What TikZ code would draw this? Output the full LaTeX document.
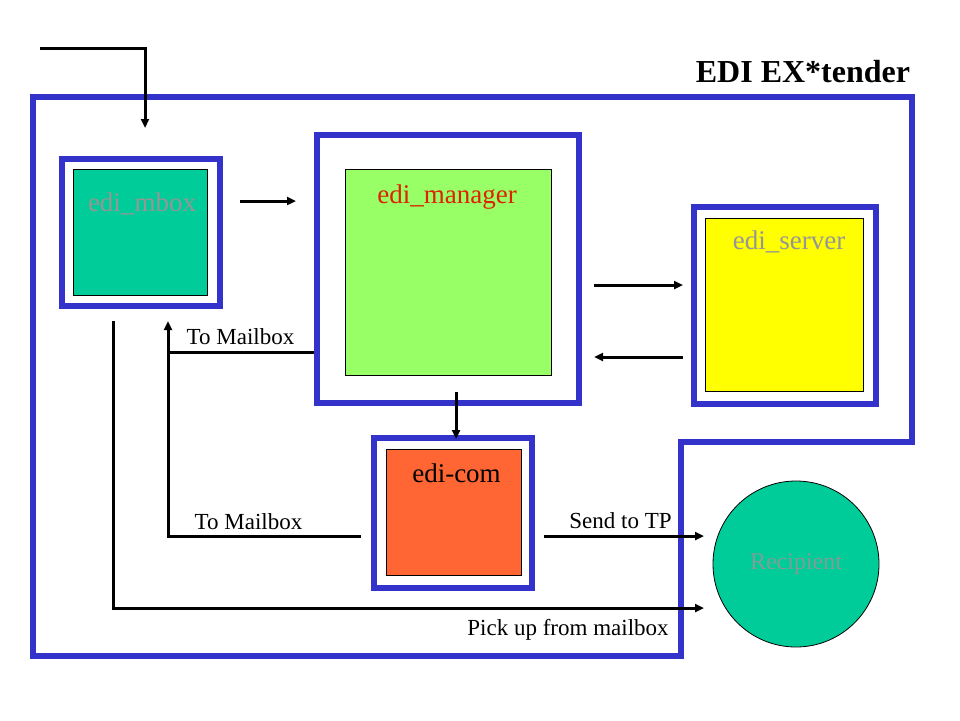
\documentclass[tikz,border=0pt]{standalone}
\usepackage{fontspec}
\setmainfont{Liberation Serif}
\usetikzlibrary{arrows.meta}

\definecolor{ediblue}{RGB}{51,51,204}
\definecolor{mboxgreen}{RGB}{0,204,153}
\definecolor{mangreen}{RGB}{153,255,102}
\definecolor{servyellow}{RGB}{255,255,0}
\definecolor{comorange}{RGB}{255,102,51}
\definecolor{manred}{RGB}{221,34,0}
\definecolor{labgray}{RGB}{150,150,150}

\tikzset{
  frame/.style={draw=ediblue, line width=6pt, inner sep=0pt},
  inbox/.style={draw=black, line width=1pt, inner sep=0pt},
  flow/.style={black, line width=3pt, ->},
  big/.style={font=\fontsize{27}{30}\selectfont, anchor=base},
  small/.style={font=\fontsize{23}{26}\selectfont, anchor=base},
  >={Triangle[length=9pt,width=8pt]}
}

\begin{document}
\begin{tikzpicture}[x=1pt,y=-1pt]
\useasboundingbox (0,0) rectangle (960,720);

% outer border
\draw[ediblue, line width=6pt] (32.5,96.5) -- (911.5,96.5) -- (911.5,442) -- (681,442) -- (681,656) -- (32.5,656) -- cycle;
\node[font=\fontsize{32}{36}\selectfont\bfseries, anchor=base] (title) at (803,82) {EDI EX*tender};

% boxes
\node[frame, minimum width=158.5pt, minimum height=147pt] (mboxframe) at (140.75,232) {};
\node[inbox, fill=mboxgreen, minimum width=134pt, minimum height=126pt] (mbox) at (140,232) {};
\node[big, text=labgray] (mboxlab) at (142,211) {edi\_mbox};

\node[frame, minimum width=262pt, minimum height=268pt] (managerframe) at (448,269) {};
\node[inbox, fill=mangreen, minimum width=206pt, minimum height=206pt] (manager) at (448,272) {};
\node[big, text=manred] (managerlab) at (447,203) {edi\_manager};

\node[frame, minimum width=182pt, minimum height=197pt] (serverframe) at (784.5,305) {};
\node[inbox, fill=servyellow, minimum width=158pt, minimum height=173pt] (server) at (784,304.5) {};
\node[big, text=labgray] (serverlab) at (789,249) {edi\_server};

\node[frame, minimum width=158pt, minimum height=150pt] (comframe) at (452.5,512.5) {};
\node[inbox, fill=comorange, minimum width=135pt, minimum height=126pt] (com) at (453.5,512) {};
\node[big] (comlab) at (456.5,482) {edi-com};

\node[circle, draw=black, line width=0.8pt, fill=mboxgreen, minimum size=166pt, inner sep=0pt] (recipient) at (796,564) {};
\node[font=\fontsize{24}{26}\selectfont, text=labgray!85!mboxgreen] at (recipient) {Recipient};

% connector ends
\coordinate (inA) at (40,48);
\coordinate (inB) at (145,128);
\coordinate (mbA) at (240,201);
\coordinate (mbB) at (296,201);
\coordinate (svA) at (594,285);
\coordinate (svB) at (683,285);
\coordinate (smA) at (683,357);
\coordinate (smB) at (594,357);
\coordinate (mcA) at (456,392);
\coordinate (mcB) at (456,439);
\coordinate (tmA) at (314,352);
\coordinate (tmB) at (168,321);
\coordinate (cmA) at (361,536);
\coordinate (crA) at (544,536);
\coordinate (crB) at (704,536);
\coordinate (puA) at (113,321);
\coordinate (puB) at (704,608);

% connectors
\draw[flow] (inA) -| (inB);
\draw[flow] (mbA) -- (mbB);
\draw[flow] (svA) -- (svB);
\draw[flow] (smA) -- (smB);
\draw[flow] (mcA) -- (mcB);
\draw[flow] (tmA) -| (tmB);
\draw[black, line width=3pt] (cmA) -| (tmB |- tmA);
\draw[flow] (crA) -- (crB);
\draw[flow] (puA) |- (puB);

\node[small] at (240.5,344) {To Mailbox};
\node[small] at (248.5,529) {To Mailbox};
\node[small] at (620.5,528) {Send to TP};
\node[small] at (568,635) {Pick up from mailbox};

\end{tikzpicture}
\end{document}
